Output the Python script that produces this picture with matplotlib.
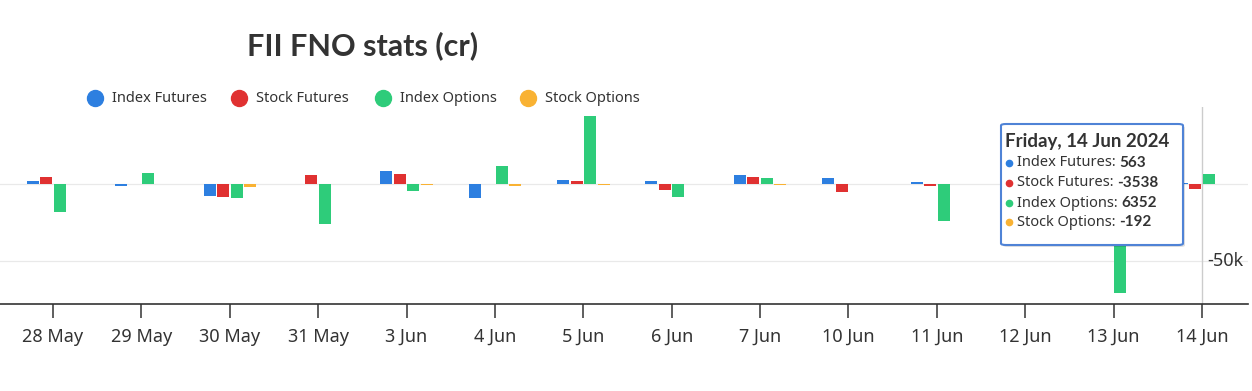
import matplotlib
matplotlib.use("Agg")
import matplotlib.pyplot as plt
from matplotlib.patches import FancyBboxPatch
from matplotlib.lines import Line2D
import numpy as np

# ---- data ----
dates = ["28 May", "29 May", "30 May", "31 May", "3 Jun", "4 Jun", "5 Jun",
         "6 Jun", "7 Jun", "10 Jun", "11 Jun", "12 Jun", "13 Jun", "14 Jun"]
index_futures = [1700, -1300, -7600, -300, 8200, -9300, 2800, 2100, 5600, 3700, 1100, 0, 2000, 563]
stock_futures = [4700, 0, -8400, 5600, 6700, 0, 1950, -3900, 4700, -5000, -1300, 0, 1500, -3538]
index_options = [-18000, 7300, -9300, -25800, -4700, 11700, 44100, -8200, 3700, 0, -24000, 0, -70500, 6352]
stock_options = [0, 0, -2100, 0, -600, -1300, -400, 0, -500, 0, 0, 0, -500, -192]

series_names = ["Index Futures", "Stock Futures", "Index Options", "Stock Options"]
series_values = [index_futures, stock_futures, index_options, stock_options]
colors = ["#2D7FE0", "#E03131", "#2ECC7A", "#F9B233"]

title = "FII FNO stats (cr)"
tooltip_title = "Friday, 14 Jun 2024"
tooltip_index = 13

W, H = 1252, 391
FONT = ["Noto Sans", "DejaVu Sans"]
BOLD = ["Lato", "DejaVu Sans"]
plt.rcParams["font.family"] = FONT

fig = plt.figure(figsize=(W / 100, H / 100), dpi=100)

def fx(x):
    return x / W

def fy(y):
    return 1 - y / H

ax = fig.add_axes([0, fy(304), fx(1248), fy(107) - fy(304)])
ax.set_xlim(-0.6, 13.52)
ax.set_ylim(-77900, 50000)

x = np.arange(len(dates))
bw = 0.136
step = 0.153
for i, (vals, c) in enumerate(zip(series_values, colors)):
    ax.bar(x + (i - 1.5) * step, vals, width=bw, color=c, zorder=3)

# grid lines
for v in [0, -50000]:
    ax.axhline(v, color="#e9e9e9", lw=0.9, zorder=1)

# crosshair
ax.axvline(x[tooltip_index], color="#cccccc", lw=1, zorder=2)

for s in ["top", "left", "right"]:
    ax.spines[s].set_visible(False)
ax.spines["bottom"].set_color("#333333")
ax.spines["bottom"].set_linewidth(1.2)
ax.set_yticks([])
ax.set_xticks(x)
ax.set_xticklabels(dates, fontsize=13, color="#333333")
ax.tick_params(axis="x", length=10, width=1.1, color="#333333", pad=7)

# y label
ax.text(13.06, -50000, "-50k", fontsize=13, color="#333333", va="center", ha="left")

# title
fig.text(fx(363), fy(46), title, fontsize=22, fontweight="bold", family=BOLD,
         color="#333333", ha="center", va="center")

# legend
leg_x = [95, 239, 383, 528]
for xx, name, c in zip(leg_x, series_names, colors):
    fig.lines.append(Line2D([fx(xx)], [fy(98)], marker="o", markersize=11.5, color=c,
                            transform=fig.transFigure, linestyle="none"))
    fig.text(fx(xx + 17), fy(98), name, fontsize=10.5, color="#333333", va="center", ha="left")

# tooltip
shadow = FancyBboxPatch((fx(1003), fy(247)), fx(182), fy(126) - fy(247),
                        boxstyle="round,pad=0,rounding_size=0.004",
                        transform=fig.transFigure, facecolor="#000000", alpha=0.12,
                        edgecolor="none", zorder=9)
fig.patches.append(shadow)
box = FancyBboxPatch((fx(1001), fy(245)), fx(182), fy(124) - fy(245),
                     boxstyle="round,pad=0,rounding_size=0.004",
                     transform=fig.transFigure, facecolor="white",
                     edgecolor="#4F83D6", lw=1.5, zorder=10)
fig.patches.append(box)
fig.text(fx(1005), fy(141), tooltip_title, fontsize=13.5, fontweight="bold", family=BOLD,
         color="#333333", va="center", ha="left", zorder=11)
line_y = [163, 183, 203, 222]
for yy, name, vals, c in zip(line_y, series_names, series_values, colors):
    fig.lines.append(Line2D([fx(1009)], [fy(yy)], marker="o", markersize=4.5, color=c,
                            transform=fig.transFigure, linestyle="none", zorder=11))
    t = fig.text(fx(1017), fy(yy), name + ": ", fontsize=10.5, color="#333333",
                 va="center", ha="left", zorder=11)
    fig.canvas.draw()
    bb = t.get_window_extent()
    fig.text(bb.x1 / W, fy(yy), f"{vals[tooltip_index]}", fontsize=11, fontweight="bold",
             family=BOLD, color="#333333", va="center", ha="left", zorder=11)

fig.savefig("out.png", dpi=100)
